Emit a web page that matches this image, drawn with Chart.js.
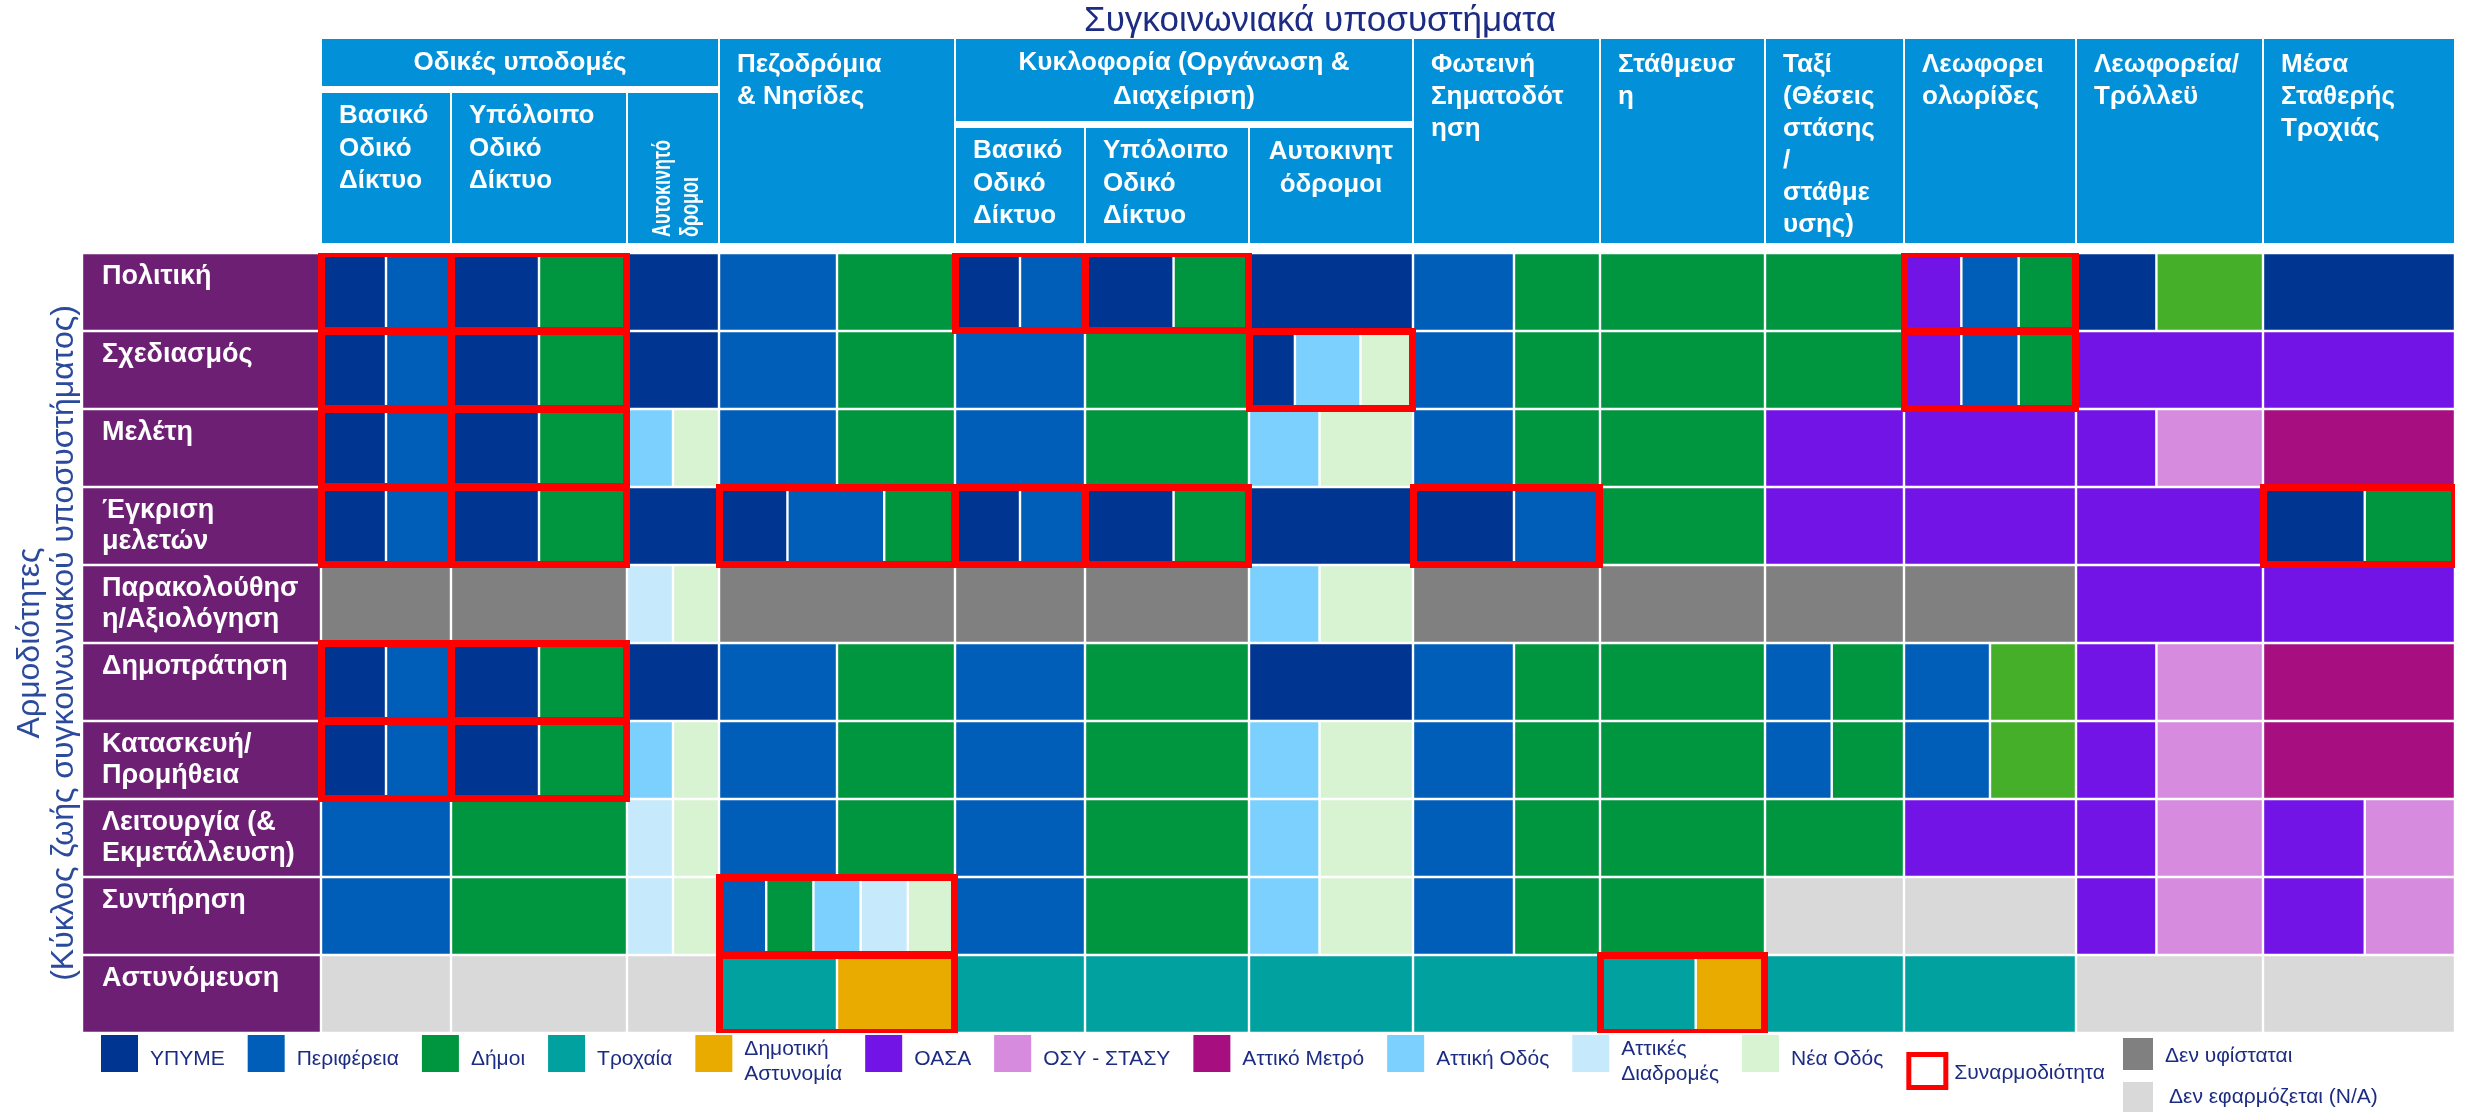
<!DOCTYPE html>
<html lang="el">
<head>
<meta charset="utf-8">
<title>Συγκοινωνιακά υποσυστήματα - Αρμοδιότητες</title>
<script src="https://cdn.jsdelivr.net/npm/chart.js@4.4.1/dist/chart.umd.min.js"></script>
<style>
  html, body { margin: 0; padding: 0; background: #ffffff; overflow: hidden; }
  .box { position: relative; width: 2465px; height: 1112px; }
</style>
</head>
<body>
<div class="box"><canvas id="graph1"></canvas></div>
<script>
// γραμμές: αρμοδιότητες (κύκλος ζωής)
const rows = ['Πολιτική', 'Σχεδιασμός', 'Μελέτη', 'Έγκριση μελετών', 'Παρακολούθηση/Αξιολόγηση',
  'Δημοπράτηση', 'Κατασκευή/Προμήθεια', 'Λειτουργία (& Εκμετάλλευση)', 'Συντήρηση', 'Αστυνόμευση'];
const rowTicks = [['Πολιτική', ''], ['Σχεδιασμός', ''], ['Μελέτη', ''], ['Έγκριση', 'μελετών'],
  ['Παρακολούθησ', 'η/Αξιολόγηση'], ['Δημοπράτηση', ''], ['Κατασκευή/', 'Προμήθεια'],
  ['Λειτουργία (&', 'Εκμετάλλευση)'], ['Συντήρηση', ''], ['Αστυνόμευση', '']];

// στήλες: συγκοινωνιακά υποσυστήματα
const title = 'Συγκοινωνιακά υποσυστήματα';
const groups = [
  { name: ['Οδικές υποδομές'], subs: [['Βασικό', 'Οδικό', 'Δίκτυο'], ['Υπόλοιπο', 'Οδικό', 'Δίκτυο'], ['Αυτοκινητό', 'δρομοι']] },
  { name: ['Πεζοδρόμια', '& Νησίδες'] },
  { name: ['Κυκλοφορία (Οργάνωση &', 'Διαχείριση)'], subs: [['Βασικό', 'Οδικό', 'Δίκτυο'], ['Υπόλοιπο', 'Οδικό', 'Δίκτυο'], ['Αυτοκινητ', 'όδρομοι']] },
  { name: ['Φωτεινή', 'Σηματοδότ', 'ηση'] },
  { name: ['Στάθμευσ', 'η'] },
  { name: ['Ταξί', '(Θέσεις', 'στάσης', '/', 'στάθμε', 'υσης)'] },
  { name: ['Λεωφορει', 'ολωρίδες'] },
  { name: ['Λεωφορεία/', 'Τρόλλεϋ'] },
  { name: ['Μέσα', 'Σταθερής', 'Τροχιάς'] }
];

// φορείς
const codes = ['Y', 'P', 'D', 'T', 'M', 'O', 'S', 'A', 'AO', 'AD', 'NO', 'X', 'NA', 'G'];
const names = ['ΥΠΥΜΕ', 'Περιφέρεια', 'Δήμοι', 'Τροχαία', 'Δημοτική Αστυνομία', 'ΟΑΣΑ', 'ΟΣΥ - ΣΤΑΣΥ',
  'Αττικό Μετρό', 'Αττική Οδός', 'Αττικές Διαδρομές', 'Νέα Οδός', 'Δεν υφίσταται', 'Δεν εφαρμόζεται (N/A)', 'Δήμοι (β)'];

// κελιά ανά γραμμή (13 στήλες), φορέας + μερίδιο όταν δεν είναι ίσο
const politiki       = ['Y+P', 'Y+D', 'Y', 'P+D', 'Y+P', 'Y54+D46', 'Y', 'P54+D46', 'D', 'D', 'O+P+D', 'Y43+G57', 'Y'];
const sxediasmos     = ['Y+P', 'Y+D', 'Y', 'P+D', 'P', 'D', 'Y28+AO40+NO32', 'P54+D46', 'D', 'D', 'O+P+D', 'O', 'O'];
const meleti         = ['Y+P', 'Y+D', 'AO+NO', 'P+D', 'P', 'D', 'AO43+NO57', 'P54+D46', 'D', 'O', 'O', 'O43+S57', 'A'];
const egkrisi        = ['Y+P', 'Y+D', 'Y', 'Y29+P41+D30', 'Y+P', 'Y54+D46', 'Y', 'Y54+P46', 'D', 'O', 'O', 'O', 'Y53+D47'];
const parakolouthisi = ['X', 'X', 'AD+NO', 'X', 'X', 'X', 'AO43+NO57', 'X', 'X', 'X', 'X', 'O', 'O'];
const dimopratisi    = ['Y+P', 'Y+D', 'Y', 'P+D', 'P', 'D', 'Y', 'P54+D46', 'D', 'P48+D52', 'P+G', 'O43+S57', 'A'];
const kataskevi      = ['Y+P', 'Y+D', 'AO+NO', 'P+D', 'P', 'D', 'AO43+NO57', 'P54+D46', 'D', 'P48+D52', 'P+G', 'O43+S57', 'A'];
const leitourgia     = ['P', 'D', 'AD+NO', 'P+D', 'P', 'D', 'AO43+NO57', 'P54+D46', 'D', 'D', 'O', 'O43+S57', 'O53+S47'];
const syntirisi      = ['P', 'D', 'AD+NO', 'P+D+AO+AD+NO', 'P', 'D', 'AO43+NO57', 'P54+D46', 'D', 'NA', 'NA', 'O43+S57', 'O53+S47'];
const astynomefsi    = ['NA', 'NA', 'NA', 'T+M', 'T', 'T', 'T', 'T', 'T58+M42', 'T', 'T', 'NA', 'NA'];

// συναρμοδιότητα: στήλες με κόκκινο πλαίσιο ανά γραμμή
const synarmodiotita = [[0, 1, 4, 5, 10], [0, 1, 6, 10], [0, 1], [0, 1, 3, 4, 5, 7, 12], [], [0, 1], [0, 1], [], [3], [3, 8]];

// --- εμφάνιση ---
const FONT = '"Liberation Sans", Arial, sans-serif';
const COLORS = {
  Y: '#003591', P: '#005eb8', D: '#009640', T: '#00a19f', M: '#eaab00', O: '#7314e6', S: '#d68bdf',
  A: '#a70f80', AO: '#7bd0fe', AD: '#c6e9fb', NO: '#d8f3d2', X: '#808080', NA: '#d9d9d9', G: '#45af29'
};
const RED = '#ff0000';
const PURPLE = '#6d1f73';
const HEAD_BLUE = '#0291d9';
const TEXT_BLUE = '#1d2c83';
const COL_W = [130, 176, 92, 236, 130, 164, 164, 187, 165, 139, 172, 187, 192];
const LABEL_W = 239;
const TITLE_AT = 999;
const CENTERED_SUBS = [6];
const WRAPPED = ['M', 'AD'];
const LEGEND_ORDER = ['Y', 'P', 'D', 'T', 'M', 'O', 'S', 'A', 'AO', 'AD', 'NO', 'SYN', 'X', 'NA'];

const colStart = [];
let acc = 0;
COL_W.forEach(w => { colStart.push(acc); acc += w; });
const TOTAL_W = acc;

function parseCell(str) {
  const parts = str.split('+').map(p => {
    const m = p.match(/^([A-Z]+)(\d*)$/);
    return { code: m[1], w: m[2] ? +m[2] : 1 };
  });
  const sum = parts.reduce((s, p) => s + p.w, 0);
  return parts.map(p => ({ code: p.code, share: p.w / sum }));
}

const table = [politiki, sxediasmos, meleti, egkrisi, parakolouthisi, dimopratisi, kataskevi, leitourgia, syntirisi, astynomefsi];

const agencySets = codes.map((c, i) => ({
  label: names[i], code: c, backgroundColor: COLORS[c], data: []
}));
table.forEach((row, r) => {
  row.forEach((cell, c) => {
    let x = colStart[c];
    parseCell(cell).forEach(seg => {
      const w = COL_W[c] * seg.share;
      agencySets[codes.indexOf(seg.code)].data.push({ x: [x, x + w], y: rows[r] });
      x += w;
    });
  });
});

const boxSet = {
  label: 'Συναρμοδιότητα', code: 'SYN', order: -1,
  backgroundColor: 'rgba(0,0,0,0)', borderColor: RED, borderWidth: 1, inflateAmount: 3,
  data: []
};
synarmodiotita.forEach((cols, r) => cols.forEach(c => {
  boxSet.data.push({ x: [colStart[c], colStart[c] + COL_W[c]], y: rows[r] });
}));

const labelSet = {
  label: 'rows', code: 'ROW', backgroundColor: PURPLE,
  data: rows.map(r => ({ x: [-LABEL_W, 0], y: r }))
};

const decor = {
  id: 'decor',
  afterDraw(chart) {
    const ctx = chart.ctx;
    const xs = chart.scales.x;
    const area = chart.chartArea;
    const left = c => xs.getPixelForValue(colStart[c]);
    const right = c => xs.getPixelForValue(colStart[c] + COL_W[c]);
    ctx.save();

    // τίτλος
    ctx.fillStyle = TEXT_BLUE;
    ctx.font = '35px ' + FONT;
    ctx.textAlign = 'center';
    ctx.textBaseline = 'middle';
    ctx.fillText(title, xs.getPixelForValue(TITLE_AT), 21);

    // κεφαλίδες στηλών
    const hTop = 39, hBottom = area.top - 10;
    let c = 0;
    groups.forEach(g => {
      const n = g.subs ? g.subs.length : 1;
      const x0 = left(c) + 1, x1 = right(c + n - 1) - 1;
      ctx.font = 'bold 26px ' + FONT;
      if (g.subs) {
        const gh = g.name.length > 1 ? 82 : 47;
        ctx.fillStyle = HEAD_BLUE;
        ctx.fillRect(x0, hTop, x1 - x0, gh);
        ctx.fillStyle = '#fff';
        ctx.textAlign = 'center';
        g.name.forEach((t, i) => ctx.fillText(t, (x0 + x1) / 2, hTop + gh / 2 + (i - (g.name.length - 1) / 2) * 34));
        const sTop = hTop + gh + 7;
        g.subs.forEach((s, k) => {
          const sx0 = left(c + k) + 1, sx1 = right(c + k) - 1;
          ctx.fillStyle = HEAD_BLUE;
          ctx.fillRect(sx0, sTop, sx1 - sx0, hBottom - sTop);
          ctx.fillStyle = '#fff';
          if (sx1 - sx0 < 100) {
            ctx.save();
            ctx.translate((sx0 + sx1) / 2 + 4, hBottom - 6);
            ctx.rotate(-Math.PI / 2);
            ctx.scale(1, 1.4);
            ctx.font = 'bold 18px ' + FONT;
            ctx.textAlign = 'left';
            s.forEach((t, i) => ctx.fillText(t, 0, (i - (s.length - 1) / 2) * 20));
            ctx.restore();
          } else if (CENTERED_SUBS.includes(c + k)) {
            ctx.textAlign = 'center';
            s.forEach((t, i) => ctx.fillText(t, (sx0 + sx1) / 2, sTop + 24 + i * 32.5));
          } else {
            ctx.textAlign = 'left';
            s.forEach((t, i) => ctx.fillText(t, sx0 + 17, sTop + 23 + i * 32.5));
          }
        });
      } else {
        ctx.fillStyle = HEAD_BLUE;
        ctx.fillRect(x0, hTop, x1 - x0, hBottom - hTop);
        ctx.fillStyle = '#fff';
        ctx.textAlign = 'left';
        g.name.forEach((t, i) => ctx.fillText(t, x0 + 17, hTop + 26 + i * 32));
      }
      c += n;
    });

    // υπόμνημα
    const ly = area.bottom;
    let lx = 101;
    ctx.font = '21px ' + FONT;
    ctx.textAlign = 'left';
    ctx.textBaseline = 'middle';
    const sets = chart.data.datasets;
    LEGEND_ORDER.forEach(code => {
      const ds = sets.find(d => d.code === code);
      if (code === 'SYN') {
        ctx.strokeStyle = RED;
        ctx.lineWidth = 5;
        ctx.strokeRect(lx + 2.5, ly + 21.5, 37, 33);
        ctx.fillStyle = TEXT_BLUE;
        ctx.fillText(ds.label, lx + 48, ly + 40);
        lx += 48 + ctx.measureText(ds.label).width + 18;
        return;
      }
      if (code === 'X') {
        ctx.fillStyle = ds.backgroundColor;
        ctx.fillRect(lx, ly + 5, 30, 32);
        ctx.fillStyle = TEXT_BLUE;
        ctx.fillText(ds.label, lx + 42, ly + 23);
        return;
      }
      if (code === 'NA') {
        ctx.fillStyle = ds.backgroundColor;
        ctx.fillRect(lx, ly + 49, 30, 32);
        ctx.fillStyle = TEXT_BLUE;
        ctx.fillText(ds.label, lx + 46, ly + 64);
        return;
      }
      ctx.fillStyle = ds.backgroundColor;
      ctx.fillRect(lx, ly + 2, 37, 37);
      ctx.fillStyle = TEXT_BLUE;
      const tx = lx + 37 + 12;
      let w;
      if (WRAPPED.includes(code)) {
        const lines = ds.label.split(' ');
        lines.forEach((t, i) => ctx.fillText(t, tx, ly + 16 + i * 25));
        w = Math.max(...lines.map(t => ctx.measureText(t).width));
      } else {
        ctx.fillText(ds.label, tx, ly + 26);
        w = ctx.measureText(ds.label).width;
      }
      lx = tx + w + 23;
    });
    ctx.restore();
  }
};

Chart.defaults.font.family = FONT;

new Chart(document.querySelector('#graph1'), {
  type: 'bar',
  data: {
    labels: rows,
    datasets: [boxSet, labelSet, ...agencySets]
  },
  options: {
    indexAxis: 'y',
    responsive: true,
    maintainAspectRatio: false,
    animation: false,
    events: [],
    layout: { padding: { top: 253, bottom: 79, left: 13, right: 10 } },
    datasets: {
      bar: {
        grouped: false,
        categoryPercentage: 1,
        barPercentage: 1,
        borderSkipped: false,
        borderColor: '#ffffff',
        borderWidth: 1.2,
        inflateAmount: 0
      }
    },
    scales: {
      x: { type: 'linear', min: -LABEL_W, max: TOTAL_W, display: false },
      y: {
        type: 'category',
        grid: { display: false },
        border: { display: false },
        ticks: {
          z: 1,
          mirror: true,
          padding: 20,
          autoSkip: false,
          color: '#ffffff',
          font: { size: 27, weight: 'bold', lineHeight: 1.12 },
          callback: (v, i) => rowTicks[i]
        },
        title: {
          display: true,
          text: ['Αρμοδιότητες', '(Κύκλος ζωής συγκοινωνιακού υποσυστήματος)'],
          color: '#2c4a9c',
          font: { size: 32, lineHeight: 1.06 },
          padding: 0
        },
        afterFit: s => { s.width = 69; }
      }
    },
    plugins: {
      legend: { display: false },
      tooltip: { enabled: false },
      title: { display: false }
    }
  },
  plugins: [decor]
});
</script>
</body>
</html>
